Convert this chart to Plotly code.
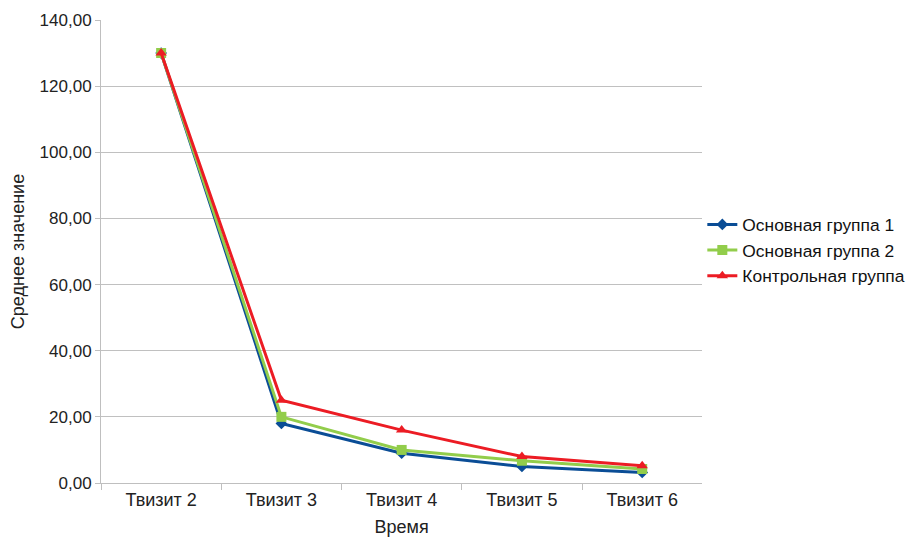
import plotly.graph_objects as go

categories = ["Твизит 2", "Твизит 3", "Твизит 4", "Твизит 5", "Твизит 6"]
group1 = [130.0, 18.0, 9.0, 5.0, 3.2]
group2 = [130.0, 20.0, 10.0, 6.7, 4.2]
control = [130.0, 25.0, 16.0, 8.0, 5.2]
y_ticks = [0, 20, 40, 60, 80, 100, 120, 140]

fig = go.Figure()
series = [
    ("Основная группа 1", group1, "#0a4d96", "diamond", 9),
    ("Основная группа 2", group2, "#92cd4b", "square", 10),
    ("Контрольная группа", control, "#ec1c24", "triangle-up", 10),
]
for name, vals, color, sym, size in series:
    fig.add_trace(go.Scatter(
        x=categories, y=vals, name=name, mode="lines+markers",
        line=dict(color=color, width=3),
        marker=dict(symbol=sym, size=size, color=color),
    ))

fig.update_layout(
    width=916, height=538,
    margin=dict(l=93, r=218, t=12, b=63),
    paper_bgcolor="white", plot_bgcolor="white",
    font=dict(family="Liberation Sans, Arial, sans-serif", size=17, color="#222222"),
    separators=", ",
    showlegend=True,
    legend=dict(xref="container", yref="container", x=0.758, y=0.550,
                xanchor="left", yanchor="middle",
                font=dict(size=17.4, color="#111111"), tracegroupgap=0,
                itemwidth=30, bgcolor="rgba(0,0,0,0)"),
    xaxis=dict(
        type="category", showgrid=False, showline=True, linecolor="#bfbfbf",
        linewidth=1, ticks="outside", tickson="boundaries", ticklen=6,
        tickcolor="#bfbfbf", tickfont=dict(size=18), automargin=False,
        title=dict(text="Время", font=dict(size=18), standoff=11),
        range=[-0.5, 4.5],
    ),
    yaxis=dict(
        range=[0, 140], tickvals=y_ticks, tickformat=".2f", automargin=False,
        showgrid=True, gridcolor="#c0c0c0", gridwidth=1,
        showline=True, linecolor="#bfbfbf", ticks="outside", ticklen=5,
        tickcolor="#bfbfbf", zeroline=False, tickfont=dict(size=17),
        title=dict(text="Среднее значение", font=dict(size=18), standoff=28),
    ),
)

fig.write_html("out.html")
